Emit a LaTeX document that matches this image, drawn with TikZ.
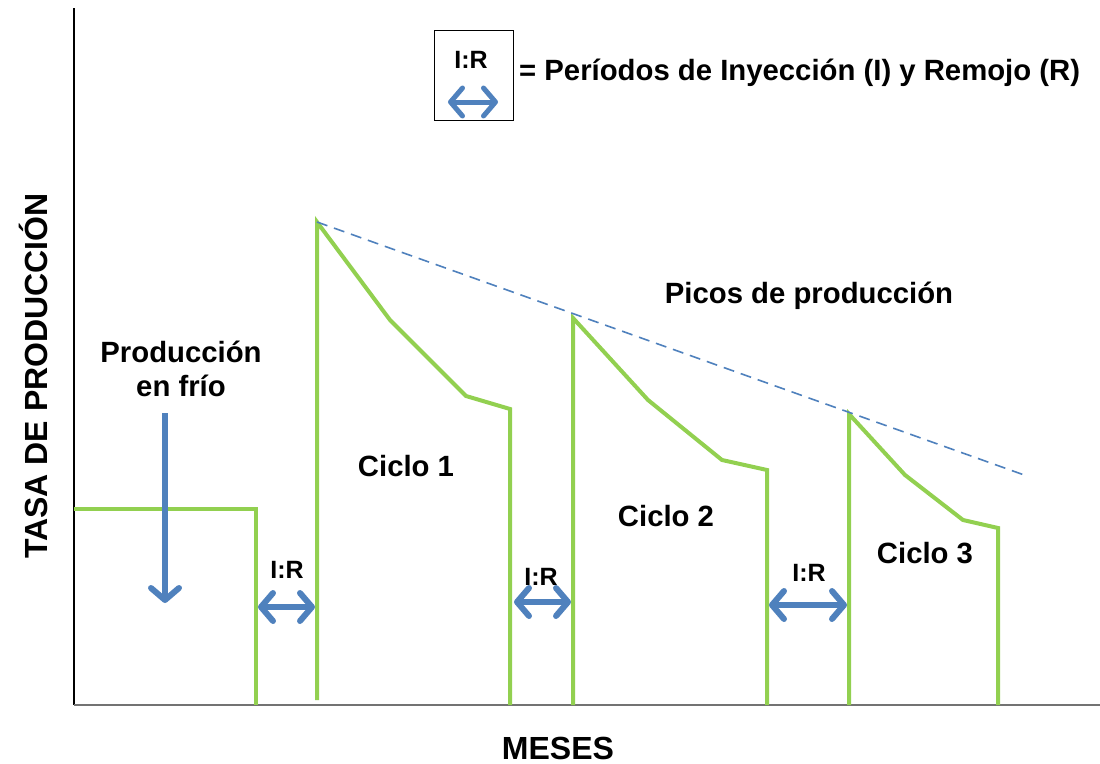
\documentclass[tikz,border=0pt]{standalone}
\usepackage{fontspec}
\setmainfont{Liberation Sans}
\usetikzlibrary{arrows.meta}
\definecolor{lgreen}{HTML}{92D050}
\definecolor{oblue}{HTML}{4F81BD}
\begin{document}
\begin{tikzpicture}[x=1pt,y=-1pt,
 curve/.style={draw=lgreen,line width=4pt,line join=miter},
 barb/.tip={Straight Barb[round,length=12pt,width=28pt]},
 irarrow/.style={draw=oblue,line width=6pt,barb-barb},
 downarrow/.style={draw=oblue,line width=6pt,-barb},
 lbl/.style={font=\bfseries\fontsize{29.3}{34}\selectfont,inner sep=0pt,align=center},
 axlbl/.style={font=\bfseries\fontsize{32}{36}\selectfont,inner sep=0pt},
 irl/.style={font=\bfseries\fontsize{25}{28}\selectfont,inner sep=0pt},
 peak/.style={draw=oblue,line width=1.6pt,dash pattern=on 11pt off 7pt},
]
\useasboundingbox (0,0) rectangle (1100,763);
\fill[white] (0,0) rectangle (1100,763);
% axes
\coordinate (origin) at (74,705);
\coordinate (ytop) at (74,8);
\coordinate (xend) at (1100,705);
\draw[black,line width=1.2pt] (ytop) -- (origin);
\draw[black!55,line width=2pt] (origin) -- (xend);
% cold production
\coordinate (c0a) at (74,509);
\coordinate (c0b) at (256,509);
\coordinate (c0c) at (256,705);
\draw[curve] (c0a) -- (c0b) -- (c0c);
% cycle 1
\coordinate (p1) at (317,222);
\draw[curve] (317,700) -- (p1) -- (390,320) -- (466,396) -- (510,409) -- (510,705);
% cycle 2
\coordinate (p2) at (573,318);
\draw[curve] (573,705) -- (p2) -- (648,400) -- (722,460) -- (767,470) -- (767,705);
% cycle 3
\coordinate (p3) at (849,414);
\draw[curve] (849,705) -- (p3) -- (905,475) -- (963,520) -- (998,528) -- (998,705);
% peaks trend
\coordinate (pend) at (1027,476);
\draw[peak] (p1) -- (pend);
% I:R arrows
\coordinate (a1l) at (258,607); \coordinate (a1r) at (315,607);
\coordinate (a2l) at (514,602); \coordinate (a2r) at (571,602);
\coordinate (a3l) at (769,605); \coordinate (a3r) at (847,605);
\draw[irarrow] (a1l) -- (a1r);
\draw[irarrow] (a2l) -- (a2r);
\draw[irarrow] (a3l) -- (a3r);
\node[irl] (ir1) at (287,570) {I:R};
\node[irl] (ir2) at (541,577) {I:R};
\node[irl] (ir3) at (809,573) {I:R};
% cold production arrow
\node[lbl] (cold) at (181,369) {Producción\\en frío};
\coordinate (dtip) at (165,603);
\draw[downarrow] (165,413) -- (dtip);
% labels
\node[lbl] (picos) at (809,296) {Picos de producción};
\node[lbl] (cic1) at (406,466) {Ciclo 1};
\node[lbl] (cic2) at (666,516) {Ciclo 2};
\node[lbl] (cic3) at (925,553) {Ciclo 3};
\node[axlbl] (meses) at (558,748) {MESES};
\node[axlbl,rotate=90] (tasa) at (33,376) {TASA DE PRODUCCIÓN};
% legend
\node[draw=black,line width=0.8pt,minimum width=79pt,minimum height=90pt,inner sep=0pt] (legbox) at (473.5,75) {};
\node[irl] (legir) at (471,60) {I:R};
\coordinate (ll) at (448,102); \coordinate (lr) at (498,102);
\draw[irarrow,line width=5pt] (ll) -- (lr);
\node[lbl,anchor=west] (legtxt) at (519,73) {= Períodos de Inyección (I) y Remojo (R)};
\end{tikzpicture}
\end{document}
